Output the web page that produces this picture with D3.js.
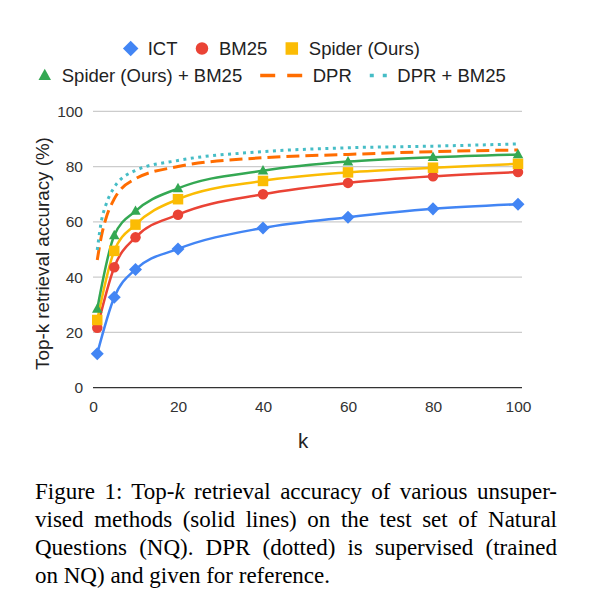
<!DOCTYPE html>
<html><head><meta charset="utf-8">
<script src="https://cdn.jsdelivr.net/npm/d3@7"></script>
<style>
body{margin:0;background:#fff;width:601px;height:615px;position:relative;overflow:hidden}
svg{position:absolute;left:0;top:0}
.cap{position:absolute;left:35px;width:522px;font-family:"Liberation Serif","Times New Roman",serif;font-size:23px;line-height:28px;color:#000;text-align:justify;text-align-last:justify;white-space:nowrap}
.cap.last{text-align-last:left}
</style></head>
<body>
<svg id="chart" width="601" height="615"></svg>
<script>
const kValues = [1, 5, 10, 20, 40, 60, 80, 100];
const ictValues = [12.3, 32.7, 42.8, 50.2, 57.8, 61.7, 64.7, 66.4];
const bm25Values = [21.7, 43.6, 54.4, 62.6, 70.0, 74.1, 76.5, 78.0];
const spiderValues = [24.5, 49.5, 59.0, 68.2, 74.8, 77.9, 79.6, 81.0];
const spiderBm25Values = [28.5, 55.1, 63.9, 72.1, 78.5, 81.8, 83.4, 84.4];
const dprK = [1, 2, 3, 5, 10, 20, 40, 60, 80, 100];
const dprValues = [46.2, 55.0, 61.0, 68.3, 75.6, 80.0, 83.2, 84.4, 85.4, 86.0];
const dprBm25Values = [49.8, 60.5, 66.0, 72.5, 78.6, 82.2, 85.4, 86.8, 87.4, 88.2];
const xTicks = [0, 20, 40, 60, 80, 100];
const yTicks = [0, 20, 40, 60, 80, 100];
const seriesNames = ["ICT", "BM25", "Spider (Ours)", "Spider (Ours) + BM25", "DPR", "DPR + BM25"];
const captionLines = [
  'Figure 1: Top-<i>k</i> retrieval accuracy of various unsuper-',
  'vised methods (solid lines) on the test set of Natural',
  'Questions (NQ). DPR (dotted) is supervised (trained',
  'on NQ) and given for reference.'
];

const series = [
  {name: seriesNames[0], k: kValues, v: ictValues, color: "#4285F4", marker: "diamond"},
  {name: seriesNames[1], k: kValues, v: bm25Values, color: "#EA4335", marker: "circle"},
  {name: seriesNames[2], k: kValues, v: spiderValues, color: "#FBBC04", marker: "square"},
  {name: seriesNames[3], k: kValues, v: spiderBm25Values, color: "#34A853", marker: "triangle"},
  {name: seriesNames[4], k: dprK, v: dprValues, color: "#FF6D01", dash: "13,6"},
  {name: seriesNames[5], k: dprK, v: dprBm25Values, color: "#46BDC6", dash: "3,4.5"}
];

const svg = d3.select("#chart");
const font = "'Liberation Sans', Arial, sans-serif";
const x = d3.scaleLinear().domain([0, 100]).range([93, 518]);
const y = d3.scaleLinear().domain([0, 100]).range([387.7, 111.3]);

// gridlines
svg.append("g").selectAll("line").data(yTicks.filter(t => t > 0)).join("line")
  .attr("x1", 93).attr("x2", 522).attr("y1", d => y(d)).attr("y2", d => y(d))
  .attr("stroke", "#cccccc").attr("stroke-width", 1.2);

// y axis labels
const yAxis = d3.axisLeft(y).tickValues(yTicks).tickSize(0).tickPadding(0).tickFormat(d3.format("d"));
const yg = svg.append("g").attr("transform", "translate(83,0)").call(yAxis);
yg.select(".domain").remove();
yg.selectAll("text").attr("font-family", font).attr("font-size", 15.5).attr("fill", "#333");

// x axis
const xAxis = d3.axisBottom(x).tickValues(xTicks).tickSize(0).tickPadding(13).tickFormat(d3.format("d"));
const xg = svg.append("g").attr("transform", "translate(0,387.7)").call(xAxis);
xg.select(".domain").remove();
xg.selectAll("text").attr("font-family", font).attr("font-size", 15.5).attr("fill", "#333");
svg.append("line").attr("x1", 93).attr("x2", 522).attr("y1", y(0)).attr("y2", y(0))
  .attr("stroke", "#333").attr("stroke-width", 1.3);

// titles
svg.append("text").attr("x", 303).attr("y", 448).attr("text-anchor", "middle")
  .attr("font-family", font).attr("font-size", 20.5).attr("fill", "#222").text("k");
svg.append("text").attr("transform", "translate(48.5,253.5) rotate(-90)").attr("text-anchor", "middle")
  .attr("font-family", font).attr("font-size", 18.8).attr("fill", "#222").text("Top-k retrieval accuracy (%)");

// lines
const line = d3.line().curve(d3.curveMonotoneX);
series.forEach(s => {
  const pts = s.k.map((k, i) => [x(k), y(s.v[i])]);
  svg.append("path").attr("d", line(pts)).attr("fill", "none")
    .attr("stroke", s.color).attr("stroke-width", s.dash ? 3 : 2.5)
    .attr("stroke-dasharray", s.dash || null);
});

function drawMarker(g, type, cx, cy, color, size) {
  if (type === "diamond") {
    const r = size * 0.62;
    g.append("path").attr("d", `M${cx},${cy - r}L${cx + r},${cy}L${cx},${cy + r}L${cx - r},${cy}Z`).attr("fill", color);
  } else if (type === "circle") {
    g.append("circle").attr("cx", cx).attr("cy", cy).attr("r", size / 2).attr("fill", color);
  } else if (type === "square") {
    g.append("rect").attr("x", cx - size / 2).attr("y", cy - size / 2).attr("width", size).attr("height", size).attr("fill", color);
  } else if (type === "triangle") {
    const h = size * 0.9;
    g.append("path").attr("d", `M${cx},${cy - h * 0.6}L${cx + size / 2},${cy + h * 0.4}L${cx - size / 2},${cy + h * 0.4}Z`).attr("fill", color);
  }
}

series.filter(s => s.marker).forEach(s => {
  const g = svg.append("g");
  s.k.forEach((k, i) => drawMarker(g, s.marker, x(k), y(s.v[i]), s.color, 10.5));
});

// legend
const rows = [[0, 1, 2], [3, 4, 5]];
const rowY = [48.5, 75.5];
const itemGap = 18;
rows.forEach((row, ri) => {
  const g = svg.append("g");
  let cx = 0;
  row.forEach((si, j) => {
    const s = series[si];
    const item = g.append("g").attr("transform", `translate(${cx},0)`);
    let symW;
    if (s.marker) {
      drawMarker(item, s.marker, 6.5, rowY[ri], s.color, 12.5);
      symW = 13;
    } else if (s.name === "DPR") {
      item.append("line").attr("x1", 0).attr("x2", 42).attr("y1", rowY[ri]).attr("y2", rowY[ri])
        .attr("stroke", s.color).attr("stroke-width", 3.5).attr("stroke-dasharray", "15,12");
      symW = 42;
    } else {
      item.append("line").attr("x1", 0).attr("x2", 17).attr("y1", rowY[ri]).attr("y2", rowY[ri])
        .attr("stroke", s.color).attr("stroke-width", 3.5).attr("stroke-dasharray", "4,9");
      symW = 17;
    }
    const t = item.append("text").attr("x", symW + 10.5).attr("y", rowY[ri] + 6.5)
      .attr("font-family", font).attr("font-size", 18.5).attr("fill", "#222").text(s.name);
    const w = t.node().getComputedTextLength();
    cx += symW + 10.5 + w + itemGap;
  });
  const total = cx - itemGap;
  g.attr("transform", `translate(${272 - total / 2},0)`);
});

// caption
captionLines.forEach((l, i) => {
  const d = document.createElement("div");
  d.className = "cap" + (i === captionLines.length - 1 ? " last" : "");
  d.style.top = (477.5 + i * 28.1) + "px";
  d.innerHTML = l;
  document.body.appendChild(d);
});
</script>
</body></html>
